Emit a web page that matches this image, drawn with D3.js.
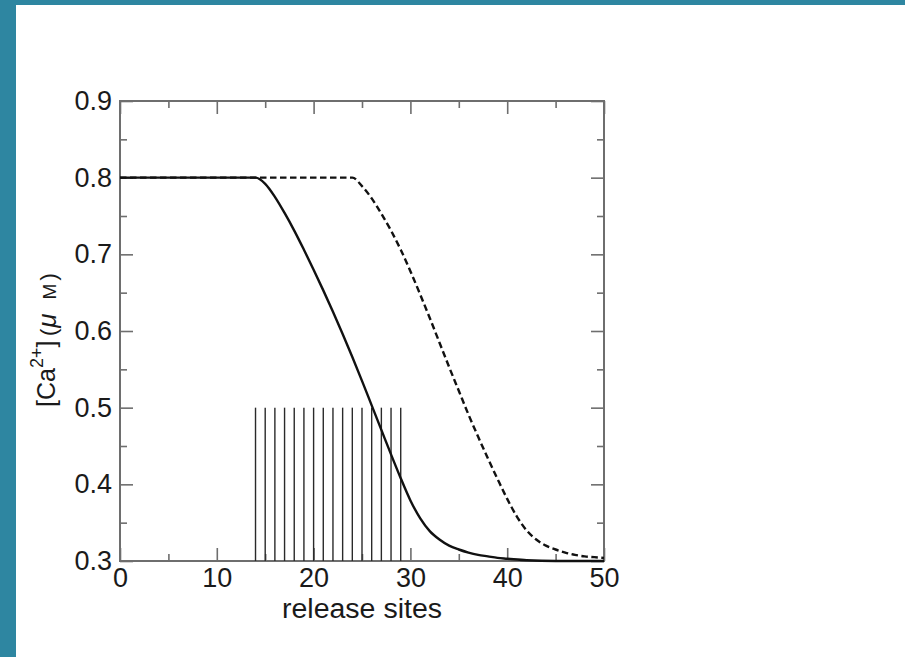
<!DOCTYPE html>
<html>
<head>
<meta charset="utf-8">
<script src="https://cdn.jsdelivr.net/npm/d3@7"></script>
<style>
  html, body { margin: 0; padding: 0; background: #fff; }
  svg { display: block; }
  text { font-family: "Liberation Sans", Arial, sans-serif; fill: #1a1a1a; }
</style>
</head>
<body>
<svg id="chart" width="905" height="657"></svg>
<script>
// Release site positions (one vertical marker per site)
const releaseSites = [14, 15, 16, 17, 18, 19, 20, 21, 22, 23, 24, 25, 26, 27, 28, 29];
const siteMarkerTop = 0.5;

// Solid curve: [Ca2+] profile along the release sites
const solidX = [0, 14, 15, 16, 17, 18, 19, 20, 21, 22, 23, 24, 25, 26, 27, 28, 29, 30, 31, 32, 33, 34, 35, 36, 37, 38, 39, 40, 42, 45, 50];
const solidY = [0.8, 0.8, 0.792, 0.775, 0.754, 0.731, 0.706, 0.680, 0.653, 0.625, 0.596, 0.566, 0.535, 0.503, 0.471, 0.439, 0.408, 0.379, 0.356, 0.339, 0.328, 0.320, 0.315, 0.311, 0.308, 0.306, 0.304, 0.303, 0.301, 0.300, 0.300];

// Dashed curve: shifted profile
const dashedX = [0, 24, 25, 26, 27, 28, 29, 30, 31, 32, 33, 34, 35, 36, 37, 38, 39, 40, 41, 42, 43, 44, 45, 46, 47, 48, 49, 50];
const dashedY = [0.8, 0.8, 0.789, 0.773, 0.753, 0.731, 0.706, 0.678, 0.648, 0.617, 0.585, 0.553, 0.522, 0.491, 0.462, 0.434, 0.407, 0.381, 0.358, 0.340, 0.328, 0.320, 0.315, 0.311, 0.308, 0.306, 0.305, 0.304];

// Axis ticks and labels
const xMajor = [0, 10, 20, 30, 40, 50];
const xMinor = [5, 15, 25, 35, 45];
const yMajor = [0.3, 0.4, 0.5, 0.6, 0.7, 0.8, 0.9];
const yMinor = [0.35, 0.45, 0.55, 0.65, 0.75, 0.85];
const xTitle = "release sites";

const svg = d3.select("#chart");
const W = 905, H = 657;
const mLeft = 120, mRight = 604, mTop = 101, mBottom = 561;

// Page frame
svg.append("rect").attr("x", 0).attr("y", 0).attr("width", W).attr("height", H).attr("fill", "#fff");
svg.append("rect").attr("x", 0).attr("y", 0).attr("width", W).attr("height", 5).attr("fill", "#2e86a1");
svg.append("rect").attr("x", 0).attr("y", 0).attr("width", 16).attr("height", H).attr("fill", "#2e86a1");

const x = d3.scaleLinear().domain([0, 50]).range([mLeft, mRight]);
const y = d3.scaleLinear().domain([0.3, 0.9]).range([mBottom, mTop]);

const axisColor = "#6e6e6e";
const major = 13, minor = 7;

function styleAxis(g) {
  g.select(".domain").remove();
  g.selectAll(".tick line").attr("stroke", axisColor).attr("stroke-width", 1.6);
}

// Bottom axis with labels (ticks point inward)
const gB = svg.append("g").attr("transform", `translate(0,${mBottom})`);
gB.call(d3.axisBottom(x).tickValues(xMajor).tickSizeInner(-major).tickSizeOuter(0).tickPadding(7).tickFormat(d3.format("d")));
gB.call(styleAxis);
gB.selectAll(".tick text").attr("font-size", 27).attr("fill", "#1a1a1a")
  .attr("font-family", "Liberation Sans, Arial, sans-serif");
svg.append("g").attr("transform", `translate(0,${mBottom})`)
  .call(d3.axisBottom(x).tickValues(xMinor).tickSizeInner(-minor).tickSizeOuter(0).tickFormat(""))
  .call(styleAxis);

// Top axis (no labels)
svg.append("g").attr("transform", `translate(0,${mTop})`)
  .call(d3.axisTop(x).tickValues(xMajor).tickSizeInner(-major).tickSizeOuter(0).tickFormat(""))
  .call(styleAxis);
svg.append("g").attr("transform", `translate(0,${mTop})`)
  .call(d3.axisTop(x).tickValues(xMinor).tickSizeInner(-minor).tickSizeOuter(0).tickFormat(""))
  .call(styleAxis);

// Left axis with labels
const gL = svg.append("g").attr("transform", `translate(${mLeft},0)`);
gL.call(d3.axisLeft(y).tickValues(yMajor).tickSizeInner(-major).tickSizeOuter(0).tickPadding(8).tickFormat(d3.format(".1f")));
gL.call(styleAxis);
gL.selectAll(".tick text").attr("font-size", 27).attr("fill", "#1a1a1a")
  .attr("font-family", "Liberation Sans, Arial, sans-serif")
  .attr("x", -8);
svg.append("g").attr("transform", `translate(${mLeft},0)`)
  .call(d3.axisLeft(y).tickValues(yMinor).tickSizeInner(-minor).tickSizeOuter(0).tickFormat(""))
  .call(styleAxis);

// Right axis (no labels)
svg.append("g").attr("transform", `translate(${mRight},0)`)
  .call(d3.axisRight(y).tickValues(yMajor).tickSizeInner(-major).tickSizeOuter(0).tickFormat(""))
  .call(styleAxis);
svg.append("g").attr("transform", `translate(${mRight},0)`)
  .call(d3.axisRight(y).tickValues(yMinor).tickSizeInner(-minor).tickSizeOuter(0).tickFormat(""))
  .call(styleAxis);

// Plot box
svg.append("rect")
  .attr("x", mLeft).attr("y", mTop)
  .attr("width", mRight - mLeft).attr("height", mBottom - mTop)
  .attr("fill", "none").attr("stroke", axisColor).attr("stroke-width", 2);

// Release site markers
svg.append("g").selectAll("line").data(releaseSites).join("line")
  .attr("x1", d => x(d)).attr("x2", d => x(d))
  .attr("y1", y(0.3)).attr("y2", y(siteMarkerTop))
  .attr("stroke", "#2a2a2a").attr("stroke-width", 1.4);

// Curves
const line = d3.line().x(d => x(d[0])).y(d => y(d[1])).curve(d3.curveMonotoneX);
const dashedPts = dashedX.map((v, i) => [v, dashedY[i]]);
const solidPts = solidX.map((v, i) => [v, solidY[i]]);

svg.append("path").attr("d", line(dashedPts))
  .attr("fill", "none").attr("stroke", "#111").attr("stroke-width", 2.4)
  .attr("stroke-dasharray", "6.5,3.5");
svg.append("path").attr("d", line(solidPts))
  .attr("fill", "none").attr("stroke", "#111").attr("stroke-width", 2.4);

// Axis titles
svg.append("text")
  .attr("x", 362).attr("y", 618)
  .attr("text-anchor", "middle").attr("font-size", 27)
  .attr("textLength", 160).attr("lengthAdjust", "spacingAndGlyphs")
  .text(xTitle);

const yt = svg.append("text")
  .attr("transform", "translate(55,407) rotate(-90)")
  .attr("font-size", 25);
yt.append("tspan").text("[Ca");
yt.append("tspan").attr("font-size", 18).attr("dy", -12).text("2+");
yt.append("tspan").attr("dy", 12).text("]");

const yu = svg.append("text")
  .attr("transform", "translate(56,336) rotate(-90)")
  .attr("font-family", "Liberation Serif, 'Times New Roman', serif")
  .attr("font-size", 22);
yu.append("tspan").text("(");
yu.append("tspan").attr("font-style", "italic").attr("font-size", 26).attr("dx", 1).text("μ");
yu.append("tspan").attr("font-size", 19).attr("dx", 14).text("M");
yu.append("tspan").attr("dx", 3).text(")");
</script>
</body>
</html>
